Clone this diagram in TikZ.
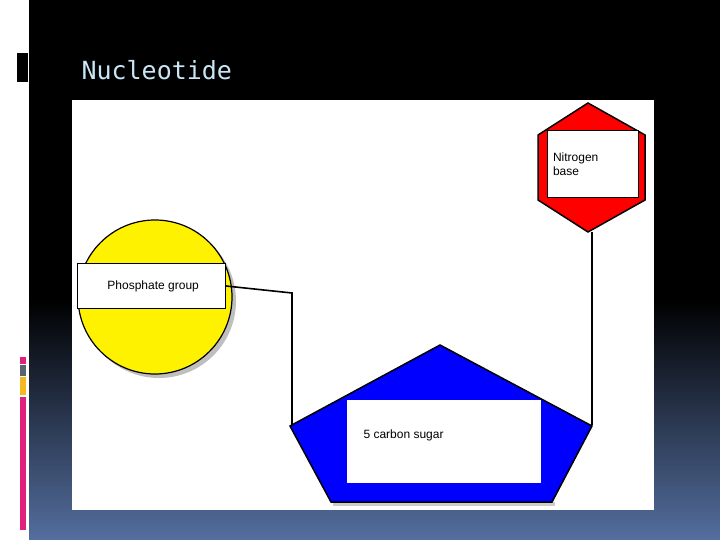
\documentclass[tikz,border=0pt]{standalone}
\usepackage{fontspec}
\setmainfont{Liberation Sans}
\newfontfamily\titlefont{DejaVu Sans Mono}
\definecolor{slateb}{HTML}{546E9E}
\definecolor{ttl}{HTML}{C8E6F5}
\definecolor{pinkb}{HTML}{E0207A}
\definecolor{grayb}{HTML}{5A6470}
\definecolor{yelb}{HTML}{F5B820}
\tikzset{x=1pt,y=-1pt,
 lbl/.style={draw=black,fill=white,line width=1pt,inner sep=0pt,font=\fontsize{12}{14}\selectfont,align=left},
 conn/.style={draw=black,line width=1.6pt}}
\begin{document}
\begin{tikzpicture}
\useasboundingbox (0,0) rectangle (720,540);
\fill[white] (0,0) rectangle (720,540);
\fill[black] (29,0) rectangle (720,300);
\shade[top color=black,bottom color=slateb] (29,300) rectangle (720,540);
\fill[black] (17,53) rectangle (28,82);
\fill[pinkb] (20,357) rectangle (26,364);
\fill[grayb] (20,365) rectangle (26,376);
\fill[yelb] (20,377) rectangle (26,395);
\fill[pinkb] (20,397) rectangle (26,530);
\node[anchor=west,text=ttl,font=\titlefont\fontsize{25}{28}\selectfont] (title) at (78,70) {Nucleotide};
\fill[white] (72,100) rectangle (654,510);
% circle
\fill[gray!50] (159,301) circle (77);
\node[circle,draw=black,fill=yellow,line width=1.2pt,minimum size=154pt] (circ) at (155,297) {};
\node[lbl,minimum width=148pt,minimum height=45pt,anchor=north west] (phos) at (77,263) {\ Phosphate group};
% hexagon
\draw[fill=red,line width=1.5pt] (588,103) -- (645,135) -- (645,200) -- (588,232) -- (538,200) -- (538,135) -- cycle;
\coordinate (hexb) at (592,232);
\node[lbl,minimum width=91pt,minimum height=67pt,anchor=north west,text width=80pt] (nb) at (547,130) {Nitrogen\\base};
% pentagon
\draw[fill=gray!40,draw=none] (333,506) -- (555,506) -- (555,502) -- (333,502) -- cycle;
\draw[fill=blue,line width=1.5pt] (440,345) -- (592,426) -- (552,502) -- (331,502) -- (290,426) -- cycle;
\coordinate (pl) at (292,425);
\coordinate (pr) at (592,425);
\node[fill=white,minimum width=194pt,minimum height=83pt,anchor=north west] (sugbox) at (347,400) {};
\node[anchor=west,font=\fontsize{12}{14}\selectfont] (sug) at (360,435) {5 carbon sugar};
% connectors
\draw[conn] (phos.east) -- (292,293) -- (pl);
\draw[conn] (hexb) -- (pr);
\end{tikzpicture}
\end{document}
